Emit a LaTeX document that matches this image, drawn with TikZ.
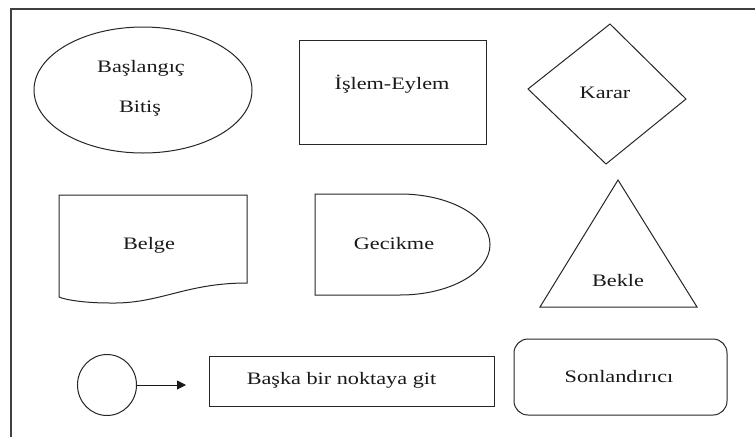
\documentclass[tikz,border=0pt]{standalone}
\usepackage{fontspec}
\setmainfont{Liberation Serif}[FakeStretch=1.27]
\usetikzlibrary{shapes.geometric,arrows.meta}
\begin{document}
\begin{tikzpicture}[x=1pt,y=-1pt,
  shapeline/.style={draw=black!85,line width=1pt},
  lbl/.style={anchor=base,inner sep=0pt,text=black!90,font=\fontsize{17.5}{40}\selectfont},
  oval/.style={shapeline,ellipse,inner sep=0pt}]
\useasboundingbox (0,0) rectangle (755,437);
\fill[white] (0,0) rectangle (755,437);
% outer frame (open to the right and bottom)
\draw[draw=black!75,line width=1.2pt] (11,437) -- (11,9) -- (755,9);

% start / end terminal
\node[oval,minimum width=218pt,minimum height=126pt] (start) at (143,90) {};
\node[lbl] (startA) at (141,72) {Başlangıç};
\node[lbl] (startB) at (140,112) {Bitiş};

% process box
\node[shapeline,rectangle,minimum width=187pt,minimum height=104pt,inner sep=0pt] (proc) at (392.5,92) {};
\node[lbl] (procT) at (392,89) {İşlem-Eylem};

% decision diamond
\draw[shapeline,line join=miter] (610,24) coordinate (dTop) -- (686,99) coordinate (dRight)
  -- (606,164) coordinate (dBottom) -- (528,89) coordinate (dLeft) -- cycle;
\node[lbl] (decT) at (605,98) {Karar};

% document shape with wavy bottom
\draw[shapeline] (59,297) -- (59,195) -- (247,195) -- (247,283)
  .. controls (185,283) and (160,304) .. (110,303)
  .. controls (85,303) and (66,300) .. (59,297);
\node[lbl] (docT) at (149,249) {Belge};

% delay shape: straight back, half-ellipse front
\draw[shapeline] (400,194) -- (315,194) -- (315,295) -- (400,295)
  arc[start angle=90,end angle=-90,x radius=90,y radius=50.5];
\node[lbl] (delayT) at (394,249) {Gecikme};

% wait triangle
\draw[shapeline,line join=miter] (618,180) coordinate (tTop) -- (697,307) coordinate (tRight)
  -- (540,307) coordinate (tLeft) -- cycle;
\node[lbl] (waitT) at (618,286) {Bekle};

% connector circle and jump box
\node[oval,minimum width=59pt,minimum height=61pt] (conn) at (107,385) {};
\coordinate (arrowEnd) at (186,385);
\draw[draw=black!90,line width=1pt,-{Triangle[length=9pt,width=9pt]}] (conn.east) -- (arrowEnd);
\node[shapeline,rectangle,minimum width=285pt,minimum height=50pt,inner sep=0pt] (jump) at (351.5,381) {};
\node[lbl] (jumpT) at (341.5,384) {Başka bir noktaya git};

% terminator
\node[shapeline,rectangle,rounded corners=14pt,minimum width=213pt,minimum height=76pt,inner sep=0pt] (term) at (620.5,377) {};
\node[lbl] (termT) at (619,382) {Sonlandırıcı};
\end{tikzpicture}
\end{document}
